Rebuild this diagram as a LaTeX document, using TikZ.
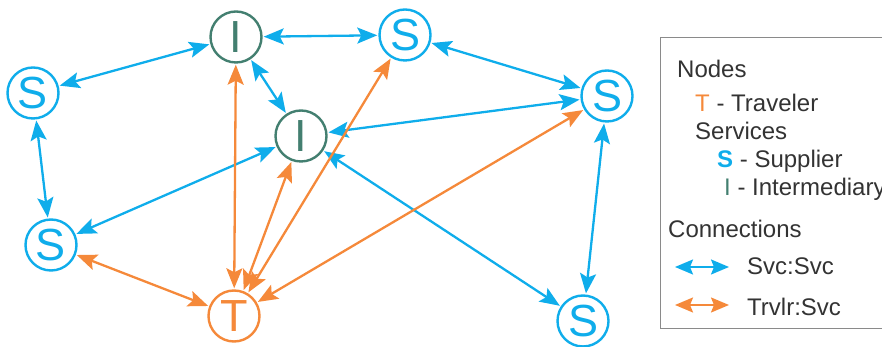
\documentclass[tikz,border=0pt]{standalone}
\usepackage{fontspec}
\setmainfont{Liberation Sans}
\usetikzlibrary{arrows.meta}
\definecolor{cblue}{HTML}{0FADEB}
\definecolor{corange}{HTML}{F5893A}
\definecolor{cgreen}{HTML}{437F70}
\definecolor{cgray}{HTML}{8A8A8A}
\tikzset{
  nd/.style={circle, draw, line width=2.4pt, minimum size=51pt, inner sep=0pt, fill=white,
    font=\fontsize{45}{45}\selectfont},
  snode/.style={nd, draw=cblue, text=cblue},
  inode/.style={nd, draw=cgreen, text=cgreen},
  tnode/.style={nd, draw=corange, text=corange},
  bigtips/.style={>={Stealth[length=20pt,width=16pt,inset=4pt]}, <->},
  bl/.style={draw=cblue, fill=cblue, line width=2.3pt, bigtips, shorten <=1pt, shorten >=1pt},
  og/.style={draw=corange, fill=corange, line width=2.3pt, bigtips, shorten <=1pt, shorten >=1pt},
  lgar/.style={line width=2pt, >={Stealth[length=18pt,width=15pt,inset=3pt]}, <->, shorten <=0pt, shorten >=0pt},
  lg/.style={anchor=base west, inner sep=0pt, font=\fontsize{24}{24}\selectfont, text=black!80},
}
\begin{document}
\begin{tikzpicture}[x=1pt,y=1pt]
\useasboundingbox (0,0) rectangle (882,347);
\clip (0,0) rectangle (882,347);
% nodes
\node[inode] (I1) at (236,310) {I};
\node[snode] (St) at (405,312) {S};
\node[snode] (Sl1) at (33,254) {S};
\node[inode] (I2) at (301,211) {I};
\node[snode] (Sr) at (607,251) {S};
\node[snode] (Sl2) at (51,102) {S};
\node[tnode] (T) at (234,31) {T};
\node[snode] (Sb) at (583,26) {S};
% blue connections
\draw[bl] (Sl1) -- (I1);
\draw[bl] (I1) -- (St);
\draw[bl] (I1) -- (I2);
\draw[bl] (St) -- (Sr);
\draw[bl] (Sr) -- (I2);
\draw[bl] (Sl1) -- (Sl2);
\draw[bl] (I2) -- (Sl2);
\draw[bl] (I2) -- (Sb);
\draw[bl] (Sr) -- (Sb);
% orange connections
\draw[og] (T) -- (I1);
\draw[og] (T) -- (I2);
\draw[og] (T) -- (St);
\draw[og] (T) -- (Sr);
\draw[og] (T) -- (Sl2);
% legend
\node[draw=cgray, line width=1pt, minimum width=260pt, minimum height=291pt, anchor=north west, inner sep=0pt] (box) at (660,310) {};
\node[lg] (ln) at (677,269) {Nodes};
\node[lg] (lt) at (695,235) {\textcolor{corange}{T} - Traveler};
\node[lg] (ls) at (695,207) {Services};
\node[lg] (lsu) at (717,179) {\textcolor{cblue}{\textbf{S}} - Supplier};
\node[lg] (li) at (724,151) {\textcolor{cgreen}{I} - Intermediary};
\node[lg] (lc) at (668,109) {Connections};
\coordinate (ab1) at (675,80);
\coordinate (ab2) at (729,80);
\draw[bl, lgar] (ab1) -- (ab2);
\node[lg] (lsvc) at (747,72) {Svc:Svc};
\coordinate (ao1) at (675,42);
\coordinate (ao2) at (729,42);
\draw[og, lgar] (ao1) -- (ao2);
\node[lg] (ltr) at (747,31) {Trvlr:Svc};
\end{tikzpicture}
\end{document}
